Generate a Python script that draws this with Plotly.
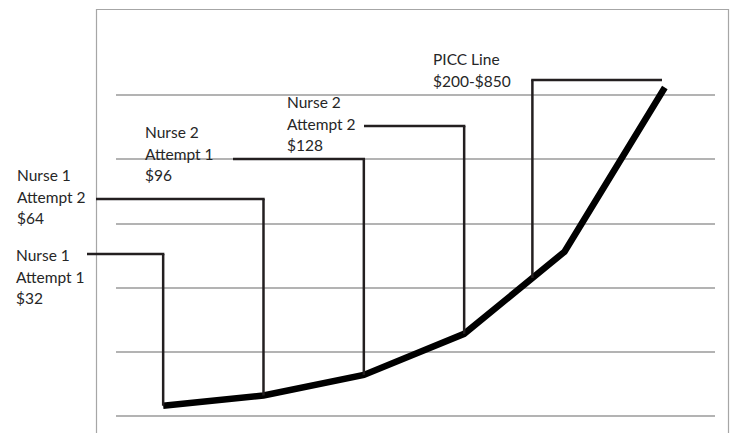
import plotly.graph_objects as go

# ---- data ----
steps = [0, 1, 2, 3, 4, 5]
cost_curve = [32, 64, 128, 256, 512, 1024]
label_lines = [
    ["Nurse 1", "Attempt 1", "$32"],
    ["Nurse 1", "Attempt 2", "$64"],
    ["Nurse 2", "Attempt 1", "$96"],
    ["Nurse 2", "Attempt 2", "$128"],
    ["PICC Line", "$200-$850"],
]
# where each callout meets the curve (step position on x axis)
callout_step = [0, 1, 2, 3, 3.68]

# ---- layout constants (pixels) ----
W, H = 736, 433
ml, mr, mt, mb = 116, 21, 31, 17
pw, ph = W - ml - mr, H - mt - mb
xr = [-0.47, 5.5]
yr = [0, 1200]

def xpix(xd):
    return ml + (xd - xr[0]) / (xr[1] - xr[0]) * pw

def px(x):
    return (x - ml) / pw

def py(y):
    return (H - mb - y) / ph

def ydata(ypx):
    return (H - mb - ypx) / ph * (yr[1] - yr[0]) + yr[0]

def curve_at(xd):
    i = int(xd)
    f = xd - i
    if f == 0:
        return cost_curve[i]
    return cost_curve[i] + f * (cost_curve[i + 1] - cost_curve[i])

text_pos = [(14, 255), (15, 175), (143, 132), (285, 102), (431, 59)]
line_gap = 21.5
elbow_y = [254, 199, 159, 126, 80]
start_x = [87, 96, 233, 364, None]
picc_end_x = 662

ink = "#231f20"
fig = go.Figure()
fig.add_trace(go.Scatter(
    x=steps, y=cost_curve, mode="lines",
    line=dict(color="#000000", width=6.5),
    hoverinfo="skip", showlegend=False,
))

shapes = []
# outer frame
shapes.append(dict(type="rect", xref="paper", yref="paper",
                   x0=px(96.5), x1=px(728.5), y0=py(445), y1=py(9.5),
                   line=dict(color="#a6a6a6", width=1.2), fillcolor="rgba(0,0,0,0)", layer="below"))

for k, xs in enumerate(callout_step):
    top = ydata(elbow_y[k])
    bottom = curve_at(xs)
    shapes.append(dict(type="line", xref="x", yref="y", x0=xs, x1=xs, y0=bottom, y1=top,
                       line=dict(color=ink, width=2.5)))
    vx = xpix(xs)
    if start_x[k] is not None:
        x0, x1 = start_x[k], vx + 1.2
    else:
        x0, x1 = vx - 1.2, picc_end_x
    shapes.append(dict(type="line", xref="paper", yref="paper",
                       x0=px(x0), x1=px(x1), y0=py(elbow_y[k]), y1=py(elbow_y[k]),
                       line=dict(color=ink, width=2.5)))

annotations = []
for k, lines in enumerate(label_lines):
    tx, ty = text_pos[k]
    for j, t in enumerate(lines):
        annotations.append(dict(
            xref="paper", yref="paper", x=px(tx), y=py(ty + j * line_gap),
            xanchor="left", yanchor="middle", text=t, showarrow=False,
            font=dict(family="Lato", size=15.5, color="#262626"),
        ))

fig.update_layout(
    width=W, height=H,
    margin=dict(l=ml, r=mr, t=mt, b=mb, pad=0),
    paper_bgcolor="white", plot_bgcolor="white",
    xaxis=dict(range=xr, visible=False, showgrid=False, zeroline=False, fixedrange=True),
    yaxis=dict(range=yr, dtick=200, showgrid=True, gridcolor="#b3b3b3", gridwidth=1.5,
               zeroline=True, zerolinecolor="#b3b3b3", zerolinewidth=1.5,
               showticklabels=False, ticks="", showline=False, fixedrange=True),
    shapes=shapes, annotations=annotations, showlegend=False,
)

fig.write_html("out.html", config={"displayModeBar": False},
               post_script="document.body.style.margin='0';")
